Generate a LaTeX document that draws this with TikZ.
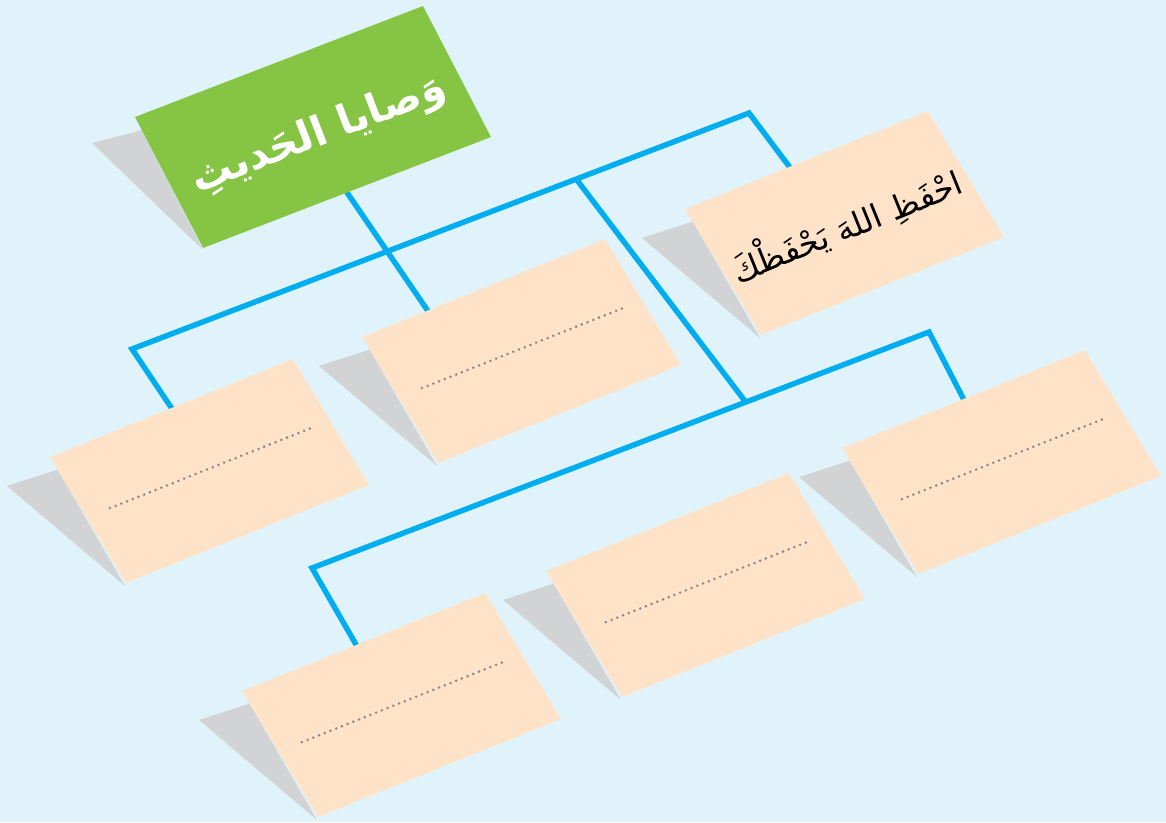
\documentclass[tikz,border=0pt]{standalone}
\usepackage{fontspec}
\usepackage{tikz}
\usetikzlibrary{calc,backgrounds}
\TeXXeTstate=1
\newfontfamily\arabicfont[Script=Arabic]{DejaVu Sans}
\definecolor{paperblue}{HTML}{E0F3FB}
\definecolor{cardbeige}{HTML}{FEE3C8}
\definecolor{titlegreen}{HTML}{86C443}
\definecolor{linkblue}{HTML}{00AEEF}
\definecolor{shadowgrey}{HTML}{D2D3D5}
\definecolor{dotgrey}{HTML}{878787}

\begin{document}
\begin{tikzpicture}[
  x=0.02cm, y=-0.02cm,
  card/.style={fill=cardbeige, inner sep=0pt, outer sep=0pt,
    minimum width=1cm, minimum height=1cm, cm={4.86,1.96,-1.52,2.52,(0,0)}},
  titlecard/.style={fill=titlegreen, inner sep=0pt, outer sep=0pt,
    minimum width=1cm, minimum height=1cm, cm={5.76,2.22,-1.36,2.62,(0,0)}},
  link/.style={draw=linkblue, line width=3.1pt},
  tocard/.style={shorten >=-3pt},
  shade/.style={fill=shadowgrey},
  blank/.style={draw=dotgrey, line width=1.6pt, line cap=round,
    dash pattern=on 0pt off 3.5pt}]
\begin{scope}[on background layer]
  \fill[paperblue] (0,0) rectangle (1166,822);
\end{scope}
% the cards
\node[titlecard] (hadith) at (313,127) {};
\node[card] (left) at (209.5,471) {};
\node[card] (middle) at (521.5,351) {};
\node[card] (hifz) at (844.5,223) {};
\node[card] (lowright) at (1001.5,462) {};
\node[card] (lowmid) at (705.5,585) {};
\node[card] (lowleft) at (401.5,705) {};
% shadows and connectors behind them
\begin{scope}[on background layer]
  \foreach \c in {left,middle,hifz,lowright,lowmid,lowleft}
    \fill[shade] ($(\c.north west)+(-43,29)$) -- ($(\c.north west)!0.1!(\c.south west)$)
      -- ($(\c.south west)+(-1,3)$) -- cycle;
  \fill[shade] ($(hadith.north west)+(-43,26)$) -- ($(hadith.north west)!0.1!(hadith.south west)$)
    -- ($(hadith.south west)+(0,2)$) -- cycle;
  \coordinate (bar1l) at (132,349);
  \coordinate (bar1r) at (749,113);
  \coordinate (bar2l) at (312,568);
  \coordinate (bar2r) at (929,332);
  \draw[link, tocard, shorten <=-3pt] (hadith.south) -- ($(middle.north west)!0.27!(middle.north east)$);
  \draw[link, tocard, shorten <=-3pt] (left.north) -- (bar1l) -- (bar1r)
    -- ($(hifz.north west)!0.43!(hifz.north east)$);
  \draw[link] ($(bar1l)!0.72!(bar1r)$) -- ($(bar2l)!0.703!(bar2r)$);
  \draw[link, tocard, shorten <=-3pt] ($(lowleft.north west)!0.47!(lowleft.north east)$)
    -- (bar2l) -- (bar2r) -- (lowright.north);
\end{scope}
% lines to write on
\foreach \c in {left,middle,lowright,lowmid,lowleft}
  \draw[blank] ($(\c.west)!0.09!(\c.east)+(0,-3)$) -- ($(\c.west)!0.92!(\c.east)+(0,-2)$);
% texts
\node[rotate=21, text=white, font=\arabicfont\bfseries\fontsize{23.5}{28}\selectfont]
  (hadithtext) at ($(hadith.center)+(6,8)$) {\beginR وَصايا الحَديثِ\endR};
\node[rotate=22, font=\arabicfont\fontsize{18.5}{22}\selectfont]
  (hifztext) at ($(hifz.center)+(2,2)$) {\beginR احْفَظِ اللهَ يَحْفَظْكَ\endR};
\end{tikzpicture}
\end{document}
